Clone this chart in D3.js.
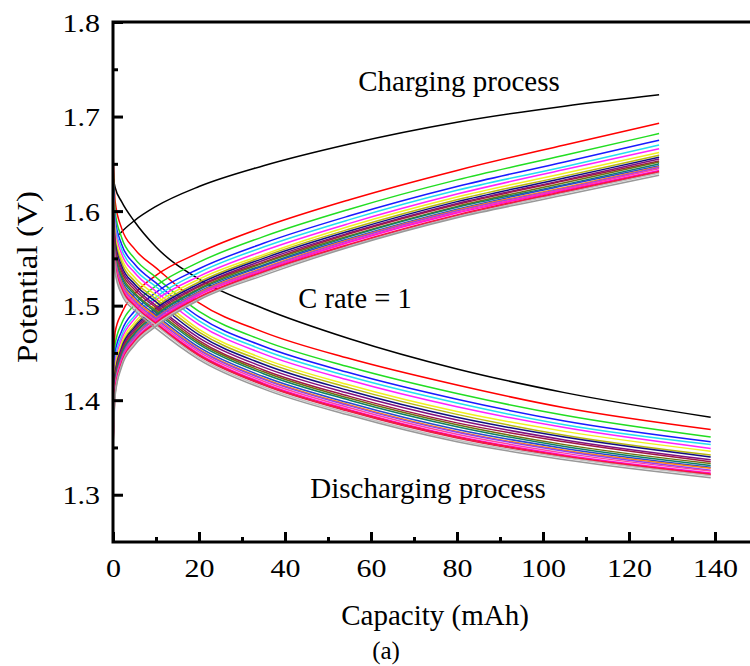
<!DOCTYPE html>
<html>
<head>
<meta charset="utf-8">
<script src="https://cdn.jsdelivr.net/npm/d3@7"></script>
<style>
  body { margin: 0; background: #fff; }
  svg { display: block; }
  text { font-family: "Liberation Serif", "Times New Roman", serif; fill: #000; }
</style>
</head>
<body>
<div id="chart"></div>
<script>
// capacity grid (mAh) the curves were read at
var chargeX = [0, 0.5, 2, 5, 10, 20, 35, 55, 80, 105, 127];
var dischargeX = [0, 0.5, 2, 5, 10, 20, 35, 55, 80, 105, 139];

// potential (V), one row per cycle
var chargeV = [
    [1.560, 1.570, 1.578, 1.590, 1.605, 1.626, 1.648, 1.671, 1.694, 1.711, 1.723],
    [1.420, 1.472, 1.492, 1.512, 1.532, 1.556, 1.583, 1.612, 1.643, 1.670, 1.693],
    [1.405, 1.459, 1.481, 1.501, 1.521, 1.546, 1.573, 1.602, 1.633, 1.659, 1.682],
    [1.395, 1.450, 1.473, 1.494, 1.514, 1.539, 1.566, 1.595, 1.626, 1.652, 1.675],
    [1.388, 1.444, 1.468, 1.489, 1.509, 1.535, 1.562, 1.591, 1.622, 1.647, 1.670],
    [1.383, 1.439, 1.464, 1.486, 1.506, 1.531, 1.558, 1.587, 1.618, 1.644, 1.666],
    [1.378, 1.434, 1.460, 1.482, 1.502, 1.528, 1.554, 1.584, 1.615, 1.640, 1.662],
    [1.374, 1.431, 1.457, 1.479, 1.499, 1.525, 1.552, 1.581, 1.612, 1.637, 1.659],
    [1.371, 1.428, 1.455, 1.477, 1.497, 1.523, 1.550, 1.579, 1.610, 1.635, 1.657],
    [1.368, 1.426, 1.453, 1.475, 1.495, 1.521, 1.548, 1.577, 1.608, 1.633, 1.655],
    [1.366, 1.424, 1.451, 1.473, 1.493, 1.520, 1.546, 1.576, 1.607, 1.632, 1.653],
    [1.364, 1.422, 1.449, 1.471, 1.491, 1.518, 1.545, 1.574, 1.605, 1.630, 1.652],
    [1.361, 1.420, 1.448, 1.470, 1.490, 1.517, 1.543, 1.573, 1.604, 1.628, 1.650],
    [1.359, 1.418, 1.446, 1.468, 1.488, 1.515, 1.542, 1.571, 1.602, 1.627, 1.648],
    [1.357, 1.416, 1.444, 1.467, 1.487, 1.514, 1.540, 1.570, 1.601, 1.625, 1.647],
    [1.355, 1.414, 1.443, 1.466, 1.486, 1.513, 1.539, 1.569, 1.600, 1.624, 1.646],
    [1.354, 1.413, 1.442, 1.464, 1.484, 1.512, 1.538, 1.568, 1.599, 1.623, 1.645],
    [1.352, 1.412, 1.441, 1.463, 1.483, 1.511, 1.537, 1.567, 1.598, 1.622, 1.643],
    [1.350, 1.410, 1.439, 1.462, 1.482, 1.509, 1.536, 1.565, 1.596, 1.621, 1.642],
    [1.349, 1.408, 1.438, 1.461, 1.481, 1.508, 1.535, 1.564, 1.595, 1.620, 1.641],
    [1.347, 1.407, 1.437, 1.460, 1.480, 1.507, 1.534, 1.563, 1.594, 1.619, 1.640],
    [1.345, 1.405, 1.435, 1.458, 1.478, 1.506, 1.532, 1.562, 1.593, 1.617, 1.638]
];

var dischargeV = [
    [1.636, 1.625, 1.610, 1.589, 1.562, 1.528, 1.497, 1.465, 1.433, 1.408, 1.382],
    [1.665, 1.610, 1.582, 1.560, 1.540, 1.503, 1.472, 1.444, 1.416, 1.392, 1.369],
    [1.652, 1.599, 1.572, 1.550, 1.530, 1.494, 1.463, 1.435, 1.407, 1.384, 1.361],
    [1.643, 1.591, 1.565, 1.544, 1.524, 1.488, 1.457, 1.429, 1.401, 1.378, 1.356],
    [1.636, 1.586, 1.560, 1.539, 1.520, 1.484, 1.453, 1.425, 1.397, 1.374, 1.353],
    [1.630, 1.581, 1.555, 1.535, 1.515, 1.480, 1.449, 1.421, 1.393, 1.371, 1.349],
    [1.624, 1.575, 1.550, 1.530, 1.511, 1.475, 1.444, 1.416, 1.388, 1.367, 1.346],
    [1.618, 1.571, 1.546, 1.526, 1.507, 1.472, 1.441, 1.413, 1.385, 1.363, 1.342],
    [1.614, 1.567, 1.542, 1.523, 1.504, 1.469, 1.438, 1.410, 1.382, 1.361, 1.340],
    [1.609, 1.563, 1.539, 1.520, 1.500, 1.466, 1.435, 1.407, 1.379, 1.358, 1.337],
    [1.606, 1.560, 1.536, 1.517, 1.498, 1.463, 1.432, 1.404, 1.376, 1.356, 1.335],
    [1.602, 1.557, 1.533, 1.514, 1.495, 1.461, 1.430, 1.402, 1.374, 1.353, 1.333],
    [1.598, 1.554, 1.530, 1.512, 1.493, 1.459, 1.428, 1.400, 1.372, 1.351, 1.331],
    [1.595, 1.551, 1.527, 1.509, 1.490, 1.456, 1.425, 1.397, 1.369, 1.349, 1.329],
    [1.592, 1.549, 1.525, 1.507, 1.488, 1.454, 1.423, 1.395, 1.367, 1.347, 1.328],
    [1.589, 1.547, 1.523, 1.505, 1.486, 1.453, 1.422, 1.394, 1.366, 1.346, 1.326],
    [1.587, 1.545, 1.521, 1.503, 1.484, 1.451, 1.420, 1.392, 1.364, 1.344, 1.325],
    [1.584, 1.542, 1.519, 1.501, 1.482, 1.449, 1.418, 1.390, 1.362, 1.342, 1.323],
    [1.582, 1.541, 1.518, 1.500, 1.481, 1.448, 1.417, 1.389, 1.361, 1.341, 1.322],
    [1.580, 1.539, 1.516, 1.499, 1.480, 1.447, 1.416, 1.388, 1.360, 1.340, 1.321],
    [1.579, 1.538, 1.515, 1.498, 1.479, 1.445, 1.414, 1.386, 1.358, 1.339, 1.320],
    [1.575, 1.535, 1.512, 1.495, 1.476, 1.443, 1.412, 1.384, 1.356, 1.337, 1.318]
];

var cycleColors = ["#000000", "#ff0000", "#22dd22", "#1a1aff", "#22e0f0", "#ff22ff",
    "#f0f020", "#b8b810", "#101080", "#801080", "#a01848", "#707010",
    "#108060", "#2848d0", "#ff8010", "#9040f0", "#ff40a0", "#ff10e0",
    "#ff1040", "#e8204a", "#c0c0c0", "#999999"];

var xTicks = [0, 20, 40, 60, 80, 100, 120, 140];
var xMinor = [10, 30, 50, 70, 90, 110, 130];
var yTicks = [1.3, 1.4, 1.5, 1.6, 1.7, 1.8];
var yMinor = [1.35, 1.45, 1.55, 1.65, 1.75];

var svgWidth = 750;
var svgHeight = 666;
var serif = "'Liberation Serif', 'Times New Roman', serif";

var svg = d3.select("#chart")
    .append("svg")
    .attr("width", svgWidth)
    .attr("height", svgHeight);

var xScale = d3.scaleLinear()
    .domain([0, 140])
    .range([113, 715]);

var yScale = d3.scaleLinear()
    .domain([1.25, 1.8])
    .range([542, 22]);

var line = d3.line()
    .x(d => xScale(d[0]))
    .y(d => yScale(d[1]))
    .curve(d3.curveMonotoneX);

// curves: charge then discharge for every cycle
var curveGroup = svg.append("g");
cycleColors.forEach(function(color, i) {
    curveGroup.append("path")
        .datum(chargeX.map((x, j) => [x, chargeV[i][j]]))
        .attr("d", line)
        .attr("fill", "none")
        .attr("stroke", color)
        .attr("stroke-width", 1.5);
    curveGroup.append("path")
        .datum(dischargeX.map((x, j) => [x, dischargeV[i][j]]))
        .attr("d", line)
        .attr("fill", "none")
        .attr("stroke", color)
        .attr("stroke-width", 1.5);
});

// axes, ticks pointing inward
var bottomAxis = d3.axisBottom(xScale).tickValues(xTicks)
    .tickSizeInner(-10).tickSizeOuter(0).tickFormat(d3.format("d"));
var bottomMinor = d3.axisBottom(xScale).tickValues(xMinor)
    .tickSizeInner(-5).tickSizeOuter(0).tickFormat("");
var leftAxis = d3.axisLeft(yScale).tickValues(yTicks)
    .tickSizeInner(-10).tickSizeOuter(0).tickFormat(d3.format(".1f"));
var leftMinor = d3.axisLeft(yScale).tickValues(yMinor)
    .tickSizeInner(-5).tickSizeOuter(0).tickFormat("");

var gx = svg.append("g").attr("transform", "translate(0,542)").call(bottomAxis);
svg.append("g").attr("transform", "translate(0,542)").call(bottomMinor);
var gy = svg.append("g").attr("transform", "translate(113,0)").call(leftAxis);
svg.append("g").attr("transform", "translate(113,0)").call(leftMinor);

svg.selectAll(".domain").remove();
svg.selectAll(".tick line").attr("stroke", "#000").attr("stroke-width", 3);

gx.selectAll(".tick text")
    .attr("y", 35)
    .attr("dy", 0)
    .attr("font-family", serif)
    .attr("font-size", 25)
    .attr("transform", "scale(1.2,1)");

gy.selectAll(".tick text")
    .attr("x", -13 / 1.2)
    .attr("dy", 0)
    .attr("y", 9)
    .attr("font-family", serif)
    .attr("font-size", 25)
    .attr("transform", "scale(1.2,1)");

// frame
svg.append("path")
    .attr("d", "M752,22H113V542H752")
    .attr("fill", "none")
    .attr("stroke", "#000")
    .attr("stroke-width", 3);

// annotations
svg.append("text").attr("x", 459).attr("y", 91).attr("text-anchor", "middle")
    .attr("font-family", serif).attr("font-size", 29).text("Charging process");
svg.append("text").attr("x", 355).attr("y", 308).attr("text-anchor", "middle")
    .attr("font-family", serif).attr("font-size", 28.5).text("C rate = 1");
svg.append("text").attr("x", 428).attr("y", 498).attr("text-anchor", "middle")
    .attr("font-family", serif).attr("font-size", 29).text("Discharging process");

// axis titles
svg.append("text").attr("x", 435).attr("y", 625).attr("text-anchor", "middle")
    .attr("font-family", serif).attr("font-size", 29).text("Capacity (mAh)");
svg.append("text").attr("x", 386).attr("y", 659).attr("text-anchor", "middle")
    .attr("font-family", serif).attr("font-size", 25).text("(a)");
svg.append("text")
    .attr("transform", "translate(37,277) rotate(-90)")
    .attr("text-anchor", "middle")
    .attr("font-family", serif)
    .attr("font-size", 29)
    .attr("textLength", 172)
    .attr("lengthAdjust", "spacingAndGlyphs")
    .text("Potential (V)");
</script>
</body>
</html>
